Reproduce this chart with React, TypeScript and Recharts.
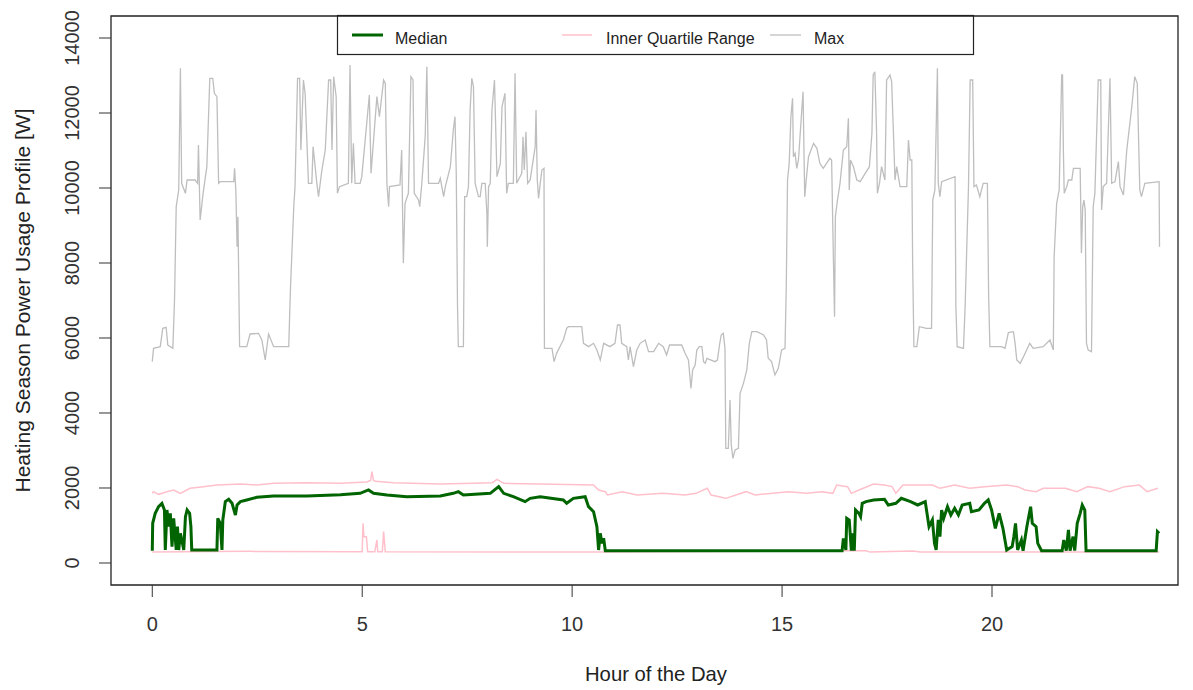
import React from 'react';
import { LineChart, Line, XAxis, YAxis, ReferenceArea, Customized } from 'recharts';

const FONT = '"Liberation Sans", Arial, Helvetica, sans-serif';

const X_TICKS = [0, 5, 10, 15, 20];
const Y_TICKS = [0, 2000, 4000, 6000, 8000, 10000, 12000, 14000];
const X_DOMAIN: [number, number] = [-0.983, 24.43];
const Y_DOMAIN: [number, number] = [-587, 14587];

const X_TITLE = 'Hour of the Day';
const Y_TITLE = 'Heating Season Power Usage Profile [W]';
const LEGEND_LABELS = ['Median', 'Inner Quartile Range', 'Max'];
const COLORS = { median: '#006400', iqr: '#FFC0CB', max: '#BEBEBE' };

// [hour, watts]
const MAX_SERIES: [number, number][] = [
  [0.00, 5369], [0.03, 5725], [0.19, 5769], [0.25, 6258], [0.33, 6285], [0.37, 5813], [0.49, 5725], [0.53, 7013], [0.57, 9502], [0.63, 9947],
  [0.67, 13191], [0.70, 10125], [0.79, 9858], [0.83, 10213], [1.02, 10213], [1.08, 10125], [1.10, 11147], [1.14, 9147], [1.21, 9858], [1.30, 10569],
  [1.37, 12925], [1.44, 12925], [1.48, 12525], [1.54, 12436], [1.58, 10125], [1.62, 10169], [1.94, 10169], [1.96, 10525], [1.99, 9947], [2.02, 8436],
  [2.04, 9236], [2.08, 5769], [2.25, 5769], [2.33, 6107], [2.53, 6125], [2.61, 5947], [2.69, 5413], [2.77, 6107], [2.89, 5769], [3.25, 5769],
  [3.29, 7280], [3.37, 9502], [3.40, 10036], [3.46, 12925], [3.51, 12925], [3.54, 11013], [3.60, 12880], [3.64, 12525], [3.72, 10125], [3.80, 10125],
  [3.83, 11102], [3.92, 10125], [3.96, 9769], [4.04, 10480], [4.12, 11013], [4.20, 12880], [4.25, 12880], [4.28, 11013], [4.32, 12969], [4.38, 12436],
  [4.41, 9858], [4.46, 10036], [4.67, 10125], [4.71, 13280], [4.75, 10125], [4.79, 11191], [4.83, 10125], [4.95, 10125], [4.99, 10302], [5.17, 12480],
  [5.21, 10391], [5.35, 12436], [5.41, 11902], [5.51, 12880], [5.55, 12791], [5.59, 10080], [5.63, 9502], [5.65, 10036], [5.90, 10080],
  [5.94, 11013], [5.98, 7991], [6.02, 9591], [6.10, 9858], [6.16, 12969], [6.21, 12880], [6.24, 9858], [6.34, 9680], [6.37, 9502], [6.42, 10125],
  [6.50, 11369], [6.54, 13236], [6.58, 10125], [6.82, 10125], [6.86, 10258], [6.94, 9769], [6.98, 10036], [7.10, 10569], [7.17, 11547], [7.21, 11902],
  [7.24, 10391], [7.27, 6836], [7.29, 5769], [7.41, 5769], [7.44, 9769], [7.49, 9769], [7.53, 10036], [7.57, 12080], [7.61, 12925], [7.65, 12702],
  [7.69, 10125], [7.77, 9769], [7.81, 9769], [7.85, 10125], [7.93, 10125], [7.97, 9325], [7.98, 8436], [8.01, 10036], [8.05, 10125], [8.09, 12080],
  [8.15, 12880], [8.21, 10302], [8.29, 10658], [8.33, 12169], [8.40, 12525], [8.44, 9858], [8.48, 10125], [8.60, 10125], [8.64, 13058], [8.68, 10125],
  [8.80, 10391], [8.83, 11369], [8.86, 10480], [8.90, 11502], [8.94, 10125], [9.00, 10213], [9.06, 10658], [9.12, 11102], [9.14, 12080], [9.17, 10213],
  [9.20, 9725], [9.24, 10125], [9.28, 10480], [9.33, 10525], [9.34, 5725], [9.52, 5725], [9.57, 5369], [9.63, 5591], [9.75, 5858], [9.79, 5947],
  [9.87, 6258], [9.91, 6302], [10.23, 6302], [10.27, 5858], [10.39, 5769], [10.51, 5858], [10.59, 5680], [10.67, 5413], [10.75, 5858], [10.90, 5769],
  [11.02, 5858], [11.08, 6347], [11.14, 6347], [11.18, 5858], [11.30, 5769], [11.34, 5413], [11.38, 5769], [11.46, 5236], [11.54, 5680], [11.62, 5858],
  [11.74, 5947], [11.82, 5636], [11.94, 5636], [12.06, 5858], [12.17, 5769], [12.25, 5547], [12.32, 5813],
  [12.45, 5813], [12.61, 5813], [12.69, 5591], [12.77, 5413], [12.83, 4658], [12.87, 5147], [12.93, 5280], [12.97, 5680], [13.03, 5769], [13.09, 5769],
  [13.13, 5369], [13.17, 5325], [13.21, 5458], [13.40, 5369], [13.46, 5413], [13.51, 5813], [13.55, 6080], [13.60, 6125], [13.64, 5725], [13.66, 3058],
  [13.72, 3058], [13.76, 4347], [13.79, 3147], [13.83, 2791], [13.88, 3013], [13.96, 3058], [14.00, 4525], [14.08, 4791], [14.16, 5147], [14.22, 5858],
  [14.28, 6169], [14.40, 6169], [14.56, 6080], [14.63, 5947], [14.67, 5458], [14.75, 5369], [14.83, 5013], [14.91, 5191], [14.99, 5680], [15.07, 5725],
  [15.10, 7369], [15.13, 10213], [15.17, 10658], [15.21, 11902], [15.25, 12391], [15.27, 10836], [15.31, 10925], [15.35, 10525], [15.39, 10747], [15.47, 12080],
  [15.50, 12569], [15.52, 11102], [15.54, 9769], [15.59, 10391], [15.63, 10836], [15.75, 11191], [15.83, 11058], [15.90, 10658], [15.98, 10525], [16.14, 10791],
  [16.18, 10747], [16.22, 8258], [16.25, 6569], [16.27, 9236], [16.32, 9680], [16.38, 10125], [16.46, 11013], [16.54, 11102], [16.58, 11858], [16.60, 9947],
  [16.63, 10747], [16.70, 10569], [16.78, 10213], [16.86, 10169], [16.98, 10391], [17.08, 10569], [17.14, 11458], [17.17, 13013], [17.21, 13102], [17.25, 11547],
  [17.27, 9858], [17.32, 10125], [17.37, 10569], [17.45, 10213], [17.49, 12880], [17.57, 13013], [17.61, 12836], [17.65, 11547], [17.69, 10213], [17.73, 10569],
  [17.81, 10036], [17.97, 10036], [18.01, 11280], [18.05, 10747], [18.09, 10747], [18.11, 7991], [18.14, 5769], [18.21, 5769], [18.27, 6302], [18.44, 6258],
  [18.56, 6258], [18.59, 9680], [18.64, 9947], [18.70, 13191], [18.72, 10125], [18.76, 9769], [18.80, 10169], [19.12, 10302], [19.14, 6836], [19.17, 5769],
  [19.32, 5725], [19.36, 6836], [19.44, 10036], [19.48, 12880], [19.54, 12880], [19.57, 10036], [19.63, 10080], [19.71, 9769], [19.79, 10125], [19.89, 10125],
  [19.92, 7102], [19.95, 5769], [20.23, 5769], [20.31, 5725], [20.39, 6142], [20.51, 6169], [20.55, 5858], [20.59, 5413], [20.67, 5325], [20.75, 5502],
  [20.90, 5858], [20.98, 5725], [21.22, 5769], [21.38, 5947], [21.46, 5680], [21.48, 8169], [21.54, 9591], [21.60, 9947], [21.66, 13013], [21.68, 13013],
  [21.70, 11013], [21.72, 9858], [21.78, 10036], [21.82, 10213], [21.90, 10213], [21.94, 10525], [22.10, 10525], [22.13, 8258], [22.16, 9502], [22.19, 9680],
  [22.22, 9413], [22.25, 5858], [22.29, 5680], [22.37, 5636], [22.41, 9502], [22.45, 9858], [22.53, 12880], [22.59, 12880], [22.61, 9413], [22.65, 10036],
  [22.73, 10125], [22.81, 12925], [22.85, 10125], [22.93, 10169], [23.01, 10702], [23.05, 10036], [23.13, 9813], [23.21, 11013], [23.33, 12169], [23.40, 12969],
  [23.46, 12791], [23.52, 9947], [23.56, 9769], [23.64, 10125], [23.98, 10169], [23.99, 8436],
];

const MEDIAN_SERIES: [number, number][] = [
  [0.00, 329], [0.01, 1058], [0.07, 1324], [0.15, 1502], [0.23, 1591], [0.29, 1413], [0.31, 347], [0.35, 1413], [0.39, 969], [0.43, 1324],
  [0.47, 436], [0.51, 1191], [0.57, 347], [0.60, 969], [0.63, 347], [0.67, 791], [0.75, 347], [0.79, 1236], [0.83, 1413], [0.89, 1324],
  [0.92, 969], [0.94, 347], [1.54, 347], [1.56, 1191], [1.62, 1058], [1.66, 347], [1.68, 1147], [1.74, 1636], [1.82, 1698], [1.90, 1591],
  [1.98, 1280], [2.02, 1547], [2.10, 1636], [2.25, 1680], [2.49, 1751], [2.89, 1787], [3.68, 1787], [4.48, 1822], [4.95, 1858], [5.15, 1947],
  [5.27, 1858], [5.59, 1813], [6.06, 1769], [6.86, 1787], [7.17, 1858], [7.29, 1902], [7.41, 1813], [8.05, 1858], [8.25, 2036], [8.37, 1858],
  [8.60, 1769], [8.88, 1636], [9.00, 1724], [9.24, 1769], [9.79, 1680], [9.87, 1591], [10.03, 1724], [10.31, 1769], [10.39, 1502], [10.51, 1369],
  [10.59, 969], [10.63, 347], [10.67, 791], [10.71, 524], [10.75, 658], [10.79, 329], [16.43, 329], [16.46, 658], [16.52, 347], [16.54, 1191],
  [16.60, 1147], [16.65, 329], [16.69, 791], [16.72, 329], [16.75, 1413], [16.83, 1324], [16.87, 1236], [16.91, 1591], [17.00, 1636], [17.18, 1680],
  [17.44, 1698], [17.53, 1547], [17.71, 1591], [17.84, 1724], [18.06, 1636], [18.23, 1547], [18.41, 1636], [18.50, 969], [18.58, 1147], [18.63, 524],
  [18.67, 347], [18.72, 1147], [18.76, 702], [18.80, 1413], [18.85, 1191], [18.94, 1502], [19.02, 1280], [19.11, 1458], [19.20, 1280], [19.29, 1547],
  [19.47, 1591], [19.51, 1369], [19.69, 1413], [19.82, 1591], [19.91, 1680], [19.99, 1413], [20.08, 924], [20.17, 1324], [20.26, 924], [20.35, 347],
  [20.48, 436], [20.52, 702], [20.56, 1058], [20.61, 347], [20.70, 613], [20.74, 329], [20.83, 969], [20.92, 1502], [20.96, 1058], [21.05, 969],
  [21.09, 524], [21.18, 329], [21.67, 329], [21.71, 613], [21.77, 329], [21.82, 880], [21.86, 329], [21.93, 702], [21.97, 329], [22.03, 1058],
  [22.10, 1324], [22.15, 1547], [22.21, 1413], [22.24, 329], [23.91, 329], [23.94, 836], [23.98, 791],
];

const IQR_UPPER_SERIES: [number, number][] = [
  [0.00, 1858], [0.03, 1902], [0.15, 1831], [0.35, 1902], [0.51, 1947], [0.67, 1858], [0.90, 1991], [1.22, 2036], [1.54, 2080], [2.10, 2107],
  [2.49, 2080], [2.89, 2124], [3.68, 2142], [4.48, 2124], [5.11, 2160], [5.20, 2200], [5.23, 2436], [5.27, 2200], [5.31, 2178], [5.75, 2142],
  [6.86, 2107], [7.65, 2124], [8.10, 2142], [8.21, 2231], [8.37, 2124], [9.24, 2107], [10.51, 2080], [10.63, 1947], [10.79, 1902], [10.84, 1813],
  [11.19, 1902], [11.55, 1813], [12.16, 1858], [12.69, 1813], [12.95, 1858], [13.22, 1991], [13.31, 1813], [13.66, 1724], [14.14, 1902], [14.36, 1813],
  [15.15, 1902], [15.59, 1858], [15.95, 1902], [16.21, 1858], [16.30, 2080], [16.56, 2036], [16.65, 1858], [16.83, 1947], [17.18, 2107], [17.44, 2080],
  [17.62, 2036], [17.71, 1858], [17.88, 2080], [18.58, 2080], [18.76, 1991], [19.11, 2080], [19.47, 1991], [19.82, 2036], [20.35, 2080], [20.61, 2036],
  [20.79, 1947], [21.05, 1902], [21.22, 1991], [21.75, 1991], [22.02, 1902], [22.28, 2036], [22.55, 1991], [22.81, 1902], [23.16, 2036], [23.51, 2080],
  [23.69, 1902], [23.95, 1991],
];

const IQR_LOWER_SERIES: [number, number][] = [
  [0.00, 290], [2.33, 310], [5.00, 300], [5.02, 1058], [5.04, 702], [5.10, 702], [5.13, 300], [5.30, 300], [5.35, 613], [5.37, 300],
  [5.48, 300], [5.51, 836], [5.55, 300], [10.80, 290], [16.50, 325], [17.00, 325], [17.10, 290], [18.10, 320], [18.30, 290], [23.98, 290],
];

const toRows = (s: [number, number][]) => s.map(([hour, watts]) => ({ hour, watts }));

const LegendBox = () => (
  <g fontFamily={FONT}>
    <rect x={337.5} y={15.5} width={636} height={39} fill="#fff" stroke="#222" strokeWidth={1.2} />
    <line x1={352} x2={383} y1={35} y2={35} stroke={COLORS.median} strokeWidth={3} />
    <text x={395} y={44.3} fontSize={16} fill="#222">{LEGEND_LABELS[0]}</text>
    <line x1={562} x2={592} y1={35} y2={35} stroke={COLORS.iqr} strokeWidth={1.5} />
    <text x={606} y={44.3} fontSize={16} fill="#222">{LEGEND_LABELS[1]}</text>
    <line x1={770} x2={801} y1={35} y2={35} stroke={COLORS.max} strokeWidth={1.3} />
    <text x={814} y={44.3} fontSize={16} fill="#222">{LEGEND_LABELS[2]}</text>
    <text x={656} y={681} fontSize={20.3} fill="#222" textAnchor="middle">{X_TITLE}</text>
    <text x={29.5} y={300.5} fontSize={21} fill="#222" textAnchor="middle" transform="rotate(-90 29.5 300.5)">{Y_TITLE}</text>
  </g>
);

const YTick = (props: any) => {
  const { x, y, payload } = props;
  return (
    <text x={x} y={y} transform={`rotate(-90 ${x} ${y})`} textAnchor="middle" fontSize={20} fill="#333" fontFamily={FONT}>
      {payload.value}
    </text>
  );
};

export default function App() {
  return (
    <div style={{ position: 'absolute', left: 0, top: 0, width: 1193, height: 690, background: '#fff' }}>
      <LineChart width={1193} height={690} margin={{ top: 16, right: 15, bottom: 25, left: 11 }}>
        <XAxis
          type="number"
          dataKey="hour"
          domain={X_DOMAIN}
          allowDataOverflow
          ticks={X_TICKS}
          interval={0}
          height={80}
          axisLine={false}
          tickSize={12}
          tickMargin={20}
          tickLine={{ stroke: '#333' }}
          tick={{ fontSize: 20, fill: '#333', fontFamily: FONT }}
        />
        <YAxis
          type="number"
          domain={Y_DOMAIN}
          allowDataOverflow
          ticks={Y_TICKS}
          interval={0}
          width={100}
          axisLine={false}
          tickSize={12}
          tickMargin={20}
          tickLine={{ stroke: '#333' }}
          tick={<YTick />}
        />
        <Line data={toRows(MAX_SERIES)} dataKey="watts" type="linear" stroke={COLORS.max} strokeWidth={1.3} dot={false} isAnimationActive={false} />
        <Line data={toRows(IQR_UPPER_SERIES)} dataKey="watts" type="linear" stroke={COLORS.iqr} strokeWidth={1.5} dot={false} isAnimationActive={false} />
        <Line data={toRows(IQR_LOWER_SERIES)} dataKey="watts" type="linear" stroke={COLORS.iqr} strokeWidth={1.5} dot={false} isAnimationActive={false} />
        <Line data={toRows(MEDIAN_SERIES)} dataKey="watts" type="linear" stroke={COLORS.median} strokeWidth={3} dot={false} isAnimationActive={false} />
        <ReferenceArea x1={X_DOMAIN[0]} x2={X_DOMAIN[1]} y1={Y_DOMAIN[0]} y2={Y_DOMAIN[1]} fill="none" stroke="#222" strokeWidth={1.3} ifOverflow="visible" />
        <Customized component={LegendBox} />
      </LineChart>
    </div>
  );
}
